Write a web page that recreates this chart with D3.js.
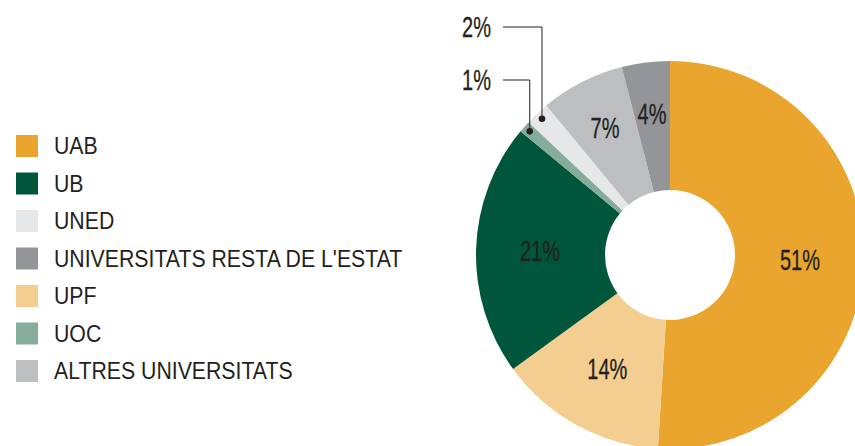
<!DOCTYPE html>
<html>
<head>
<meta charset="utf-8">
<script src="https://cdn.jsdelivr.net/npm/d3@7"></script>
<style>
  html, body { margin: 0; padding: 0; background: #fff; overflow: hidden; }
  svg { display: block; }
  text { font-family: "Liberation Sans", Arial, sans-serif; fill: #231f20; }
  text.pct { stroke: #231f20; stroke-width: 0.3px; }
</style>
</head>
<body>
<div id="chart"></div>
<script>
// data, in drawing order (clockwise from 12 o'clock)
var sliceNames = ["UAB", "UPF", "UB", "UOC", "UNED", "ALTRES UNIVERSITATS", "UNIVERSITATS RESTA DE L'ESTAT"]
var sliceValues = [51, 14, 21, 1, 2, 7, 4]
var sliceColors = ["#e9a52e", "#f3ce90", "#00563b", "#86ac9c", "#e6e7e8", "#bcbec0", "#939598"]

// legend order as in the reference
var legendNames = ["UAB", "UB", "UNED", "UNIVERSITATS RESTA DE L'ESTAT", "UPF", "UOC", "ALTRES UNIVERSITATS"]

// small slices get a callout instead of an inside label
var calloutNames = ["UOC", "UNED"]

var width = 855, height = 446
var cx = 670, cy = 255, outerR = 194, innerR = 65
var squeeze = 0.69   // condensed look for the percent labels

var svg = d3.select("#chart").append("svg")
    .attr("width", width)
    .attr("height", height)

var color = d3.scaleOrdinal().domain(sliceNames).range(sliceColors)

var pie = d3.pie().sort(null).value(function(d) { return d.value })
var data = sliceNames.map(function(n, i) { return {name: n, value: sliceValues[i]} })
var arcs = pie(data)

var arc = d3.arc().innerRadius(innerR).outerRadius(outerR)

var g = svg.append("g").attr("transform", "translate(" + cx + "," + cy + ")")

g.selectAll("path.slice")
    .data(arcs)
    .enter().append("path")
    .attr("class", "slice")
    .attr("d", arc)
    .attr("fill", function(d) { return color(d.data.name) })

// inside labels
var bigLabel = d3.arc().innerRadius(130).outerRadius(130)
var smallLabel = d3.arc().innerRadius(143).outerRadius(143)
g.selectAll("text.pct")
    .data(arcs.filter(function(d) { return calloutNames.indexOf(d.data.name) < 0 }))
    .enter().append("text")
    .attr("class", "pct")
    .attr("transform", function(d) {
        var c = (d.data.value >= 10 ? bigLabel : smallLabel).centroid(d)
        return "translate(" + c[0] + "," + c[1] + ") scale(" + squeeze + ",1)"
    })
    .attr("text-anchor", "middle")
    .attr("dy", "0.36em")
    .style("font-size", "29px")
    .text(function(d) { return d.data.value + "%" })

// callouts
var dotArc = d3.arc().innerRadius(outerR - 7).outerRadius(outerR - 7)
var calloutY = {"UOC": 80 - cy, "UNED": 27 - cy}
arcs.filter(function(d) { return calloutNames.indexOf(d.data.name) >= 0 }).forEach(function(d) {
    var p = dotArc.centroid(d)
    var ly = calloutY[d.data.name]
    g.append("path")
        .attr("d", "M" + (503 - cx) + "," + ly + "H" + p[0] + "V" + p[1])
        .attr("fill", "none")
        .attr("stroke", "#231f20")
        .attr("stroke-width", 1)
    g.append("circle")
        .attr("cx", p[0]).attr("cy", p[1]).attr("r", 3.3)
        .attr("fill", "#231f20")
    g.append("text")
        .attr("class", "pct")
        .attr("transform", "translate(" + (491 - cx) + "," + ly + ") scale(" + squeeze + ",1)")
        .attr("dy", "0.36em")
        .attr("text-anchor", "end")
        .style("font-size", "29px")
        .text(d.data.value + "%")
})

// legend
var ly = d3.scalePoint().domain(legendNames).range([146, 371])
var leg = svg.selectAll("g.leg")
    .data(legendNames)
    .enter().append("g")
    .attr("class", "leg")
    .attr("transform", function(d) { return "translate(16," + ly(d) + ")" })

leg.append("rect")
    .attr("x", 0).attr("y", -11)
    .attr("width", 22).attr("height", 22)
    .attr("fill", function(d) { return color(d) })

leg.append("text")
    .attr("transform", "translate(38,0) scale(0.925,1)")
    .attr("dy", "0.36em")
    .style("font-size", "23px")
    .text(function(d) { return d })
</script>
</body>
</html>
